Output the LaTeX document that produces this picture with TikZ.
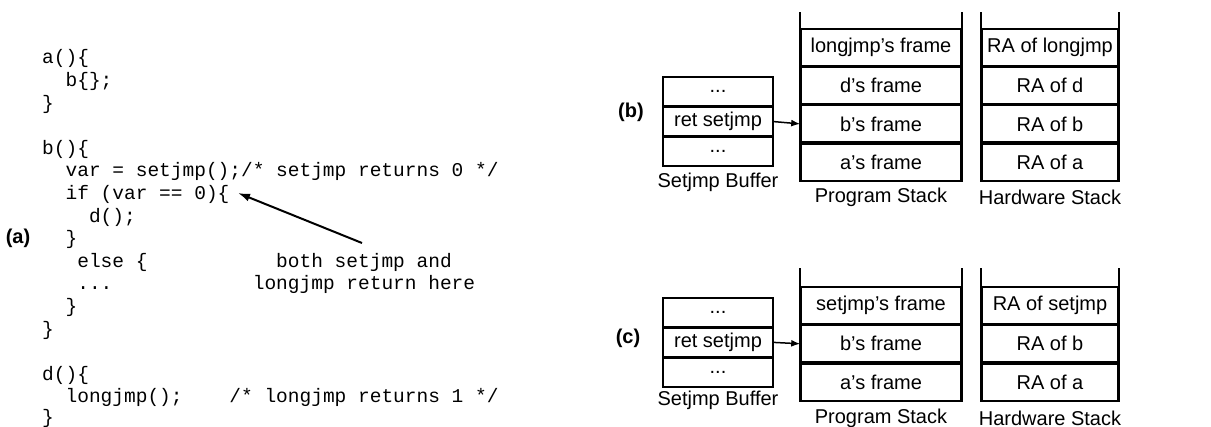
\documentclass[tikz,border=0pt]{standalone}
\usepackage{fontspec}
\setmainfont{Liberation Sans}
\newfontfamily\codefont{Liberation Mono}
\usetikzlibrary{arrows.meta}
\tikzset{
  code/.style={anchor=base west, inner sep=0pt, font=\codefont\fontsize{19.5}{22}\selectfont},
  tag/.style={inner sep=0pt, font=\bfseries\fontsize{20}{24}\selectfont},
  cell/.style={draw, line width=1.6pt, minimum height=36.7pt, inner sep=0pt, font=\fontsize{20}{24}\selectfont},
  pcell/.style={cell, minimum width=160pt},
  hcell/.style={cell, minimum width=136pt},
  bcell/.style={draw, line width=1.4pt, minimum width=110pt, minimum height=28.7pt, inner sep=0pt, font=\fontsize{20}{24}\selectfont},
  caption/.style={inner sep=0pt, font=\fontsize{20}{24}\selectfont},
  wall/.style={line width=2pt},
  ptr/.style={line width=1.5pt, -{Latex[length=9pt,width=7pt]}},
  callout/.style={line width=2pt, -{Latex[length=12pt,width=8pt]}},
}
\begin{document}
\begin{tikzpicture}[x=1pt,y=-1pt]
\useasboundingbox (0,0) rectangle (1211,427);

% ---------------- (a) source listing ----------------
\node[tag] (ta) at (18,238) {(a)};
\node[code] (c0)  at (42,64)    {a()\{};
\node[code] (c1)  at (65.4,86.6) {b\{\};};
\node[code] (c2)  at (42,109.2) {\}};
\node[code] (c4)  at (42,154.4) {b()\{};
\node[code] (c5)  at (65.4,177) {var = setjmp();/* setjmp returns 0 */};
\node[code] (c6)  at (65.4,199.6) {if (var == 0)\{};
\node[code] (c7)  at (88.8,222.2) {d();};
\node[code] (c8)  at (65.4,244.8) {\}};
\node[code] (c9)  at (77.1,267.4) {else \{};
\node[code] (c10) at (77.1,290) {...};
\node[code] (c11) at (65.4,312.6) {\}};
\node[code] (c12) at (42,335.2) {\}};
\node[code] (c14) at (42,380.4) {d()\{};
\node[code] (c15) at (65.4,403) {longjmp();};
\node[code] (c15b) at (229.2,403) {/* longjmp returns 1 */};
\node[code] (c16) at (42,424) {\}};

\node[code] (n1) at (276,267.4) {both setjmp and};
\node[code] (n2) at (252.6,290) {longjmp return here};
\coordinate (nfrom) at (362,243);
\coordinate (nto) at (238,193);
\draw[callout] (nfrom) -- (nto);

% ---------------- (b) state during longjmp ----------------
\node[tag] (tb) at (631,112) {(b)};

\node[bcell] (bb1) at (718,91.5) {...};
\node[bcell, anchor=north] (bb2) at (bb1.south) {ret setjmp};
\node[bcell, anchor=north] (bb3) at (bb2.south) {...};
\node[caption] (bbl) at (718,182) {Setjmp Buffer};

\node[pcell] (pb1) at (881,47.3) {longjmp’s frame};
\node[pcell, anchor=north] (pb2) at (pb1.south) {d’s frame};
\node[pcell, anchor=north] (pb3) at (pb2.south) {b’s frame};
\node[pcell, anchor=north] (pb4) at (pb3.south) {a’s frame};
\draw[wall] ([yshift=16pt]pb1.north west) -- (pb4.south west) -- (pb4.south east) -- ([yshift=16pt]pb1.north east);
\node[caption] (pbl) at (881,197) {Program Stack};

\node[hcell] (hb1) at (1050,47.3) {RA of longjmp};
\node[hcell, anchor=north] (hb2) at (hb1.south) {RA of d};
\node[hcell, anchor=north] (hb3) at (hb2.south) {RA of b};
\node[hcell, anchor=north] (hb4) at (hb3.south) {RA of a};
\draw[wall] ([yshift=16pt]hb1.north west) -- (hb4.south west) -- (hb4.south east) -- ([yshift=16pt]hb1.north east);
\node[caption] (hbl) at (1050,197) {Hardware Stack};

\draw[ptr] (bb2.east) -- (pb3.west);

% ---------------- (c) state during setjmp ----------------
\node[tag] (tc) at (628,338) {(c)};

\node[bcell] (cb1) at (718,312.3) {...};
\node[bcell, anchor=north] (cb2) at (cb1.south) {ret setjmp};
\node[bcell, anchor=north] (cb3) at (cb2.south) {...};
\node[caption] (cbl) at (718,400) {Setjmp Buffer};

\node[pcell] (pc1) at (881,305.5) {setjmp’s frame};
\node[pcell, anchor=north] (pc2) at (pc1.south) {b’s frame};
\node[pcell, anchor=north] (pc3) at (pc2.south) {a’s frame};
\draw[wall] ([yshift=18pt]pc1.north west) -- (pc3.south west) -- (pc3.south east) -- ([yshift=18pt]pc1.north east);
\node[caption] (pcl) at (881,418) {Program Stack};

\node[hcell] (hc1) at (1050,305.5) {RA of setjmp};
\node[hcell, anchor=north] (hc2) at (hc1.south) {RA of b};
\node[hcell, anchor=north] (hc3) at (hc2.south) {RA of a};
\draw[wall] ([yshift=18pt]hc1.north west) -- (hc3.south west) -- (hc3.south east) -- ([yshift=18pt]hc1.north east);
\node[caption] (hcl) at (1050,418) {Hardware Stack};

\draw[ptr] (cb2.east) -- (pc2.west);
\end{tikzpicture}
\end{document}
